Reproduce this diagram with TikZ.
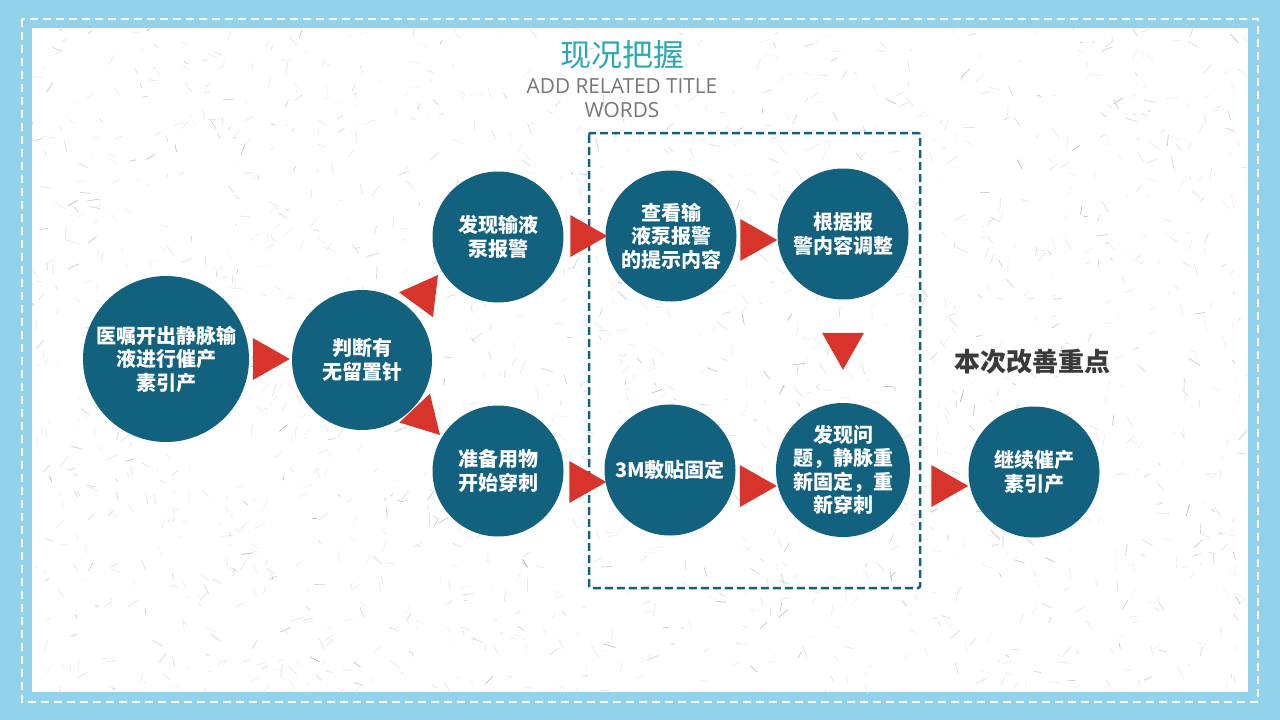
\documentclass[tikz,border=0pt]{standalone}
\usepackage{fontspec}
\newfontfamily\cjk{Noto Sans CJK SC}
\newfontfamily\latinf{Open Sans}
\usetikzlibrary{calc}
\definecolor{bluebg}{HTML}{92D2EA}
\definecolor{circfill}{HTML}{11617F}
\definecolor{trired}{HTML}{D7352B}
\definecolor{titleteal}{HTML}{2BA9B4}
\definecolor{subgray}{HTML}{767676}
\definecolor{darktext}{HTML}{3A3A3A}
\newcommand\arrtri[2]{\fill[trired,shift={(#1)},rotate=#2] (0,0) -- (-37,21) -- (-37,-21) -- cycle;}
\begin{document}
\begin{tikzpicture}[x=1pt,y=-1pt,
  stepcirc/.style={circle, fill=circfill, draw=none, text=white, inner sep=0pt,
    font=\cjk\bfseries\fontsize{20}{23.5}\selectfont, align=center},
  bigc/.style={stepcirc, minimum size=166pt},
  midc/.style={stepcirc, minimum size=140pt},
  smallc/.style={stepcirc, minimum size=131pt}]
\useasboundingbox (0,0) rectangle (1280,720);
\fill[bluebg] (0,0) rectangle (1280,720);
\draw[white, line width=2pt, dash pattern=on 8pt off 5pt] (22,19) rectangle (1258,702);
\fill[white] (32,28) rectangle (1248,692);
% paper texture
\begin{scope}
\clip (32,28) rectangle (1248,692);
\pgfmathsetseed{42}
\foreach \i in {1,...,1800}{
  \pgfmathsetmacro\px{32+1216*rnd}
  \pgfmathsetmacro\py{28+664*rnd}
  \pgfmathsetmacro\pa{360*rnd}
  \pgfmathsetmacro\pl{3+10*rnd}
  \pgfmathtruncatemacro\pg{6+26*rnd*rnd}
  \draw[black!\pg, line width=0.6pt] (\px,\py) -- ++(\pa:\pl);
}
\end{scope}
% title
\node[font=\cjk\fontsize{31}{31}\selectfont, text=titleteal] (title) at (622,55) {现况把握};
\node[font=\latinf\fontsize{20.8}{23.5}\selectfont, text=subgray, align=center] (sub) at (622,98) {ADD RELATED TITLE\\WORDS};
% focus frame
\draw[circfill, line width=2.5pt, dash pattern=on 8pt off 4pt, rounded corners=2pt] (589,133) rectangle (920,588);
% circles
\node[bigc] (c1) at (166,359) {医嘱开出静脉输\\液进行催产\\素引产};
\node[midc] (c2) at (362,360) {判断有\\无留置针};
\node[smallc] (c3) at (498,237) {发现输液\\泵报警};
\node[smallc] (c4) at (498,471) {准备用物\\开始穿刺};
\node[smallc] (c5) at (671,236) {查看输\\液泵报警\\的提示内容};
\node[smallc] (c6) at (843,234) {根据报\\警内容调整};
\node[smallc] (c7) at (670,470) {3M敷贴固定};
\node[smallc] (c8) at (843,470) {发现问\\题，静脉重\\新固定，重\\新穿刺};
\node[smallc] (c9) at (1034,472) {继续催产\\素引产};
\node[font=\cjk\bfseries\fontsize{26}{26}\selectfont, text=darktext] (focus) at (1032,362) {本次改善重点};
% triangle arrows (tip, direction)
\coordinate (t12) at ($(c2.west)+(-2,-1)$);
\coordinate (t23) at (438,275);
\coordinate (t24) at (440,435);
\coordinate (t35) at ($(c5.west)+(2,0)$);
\coordinate (t56) at ($(c6.west)+(0,6)$);
\coordinate (t68) at ($(c8.north)+(0,-33)$);
\coordinate (t47) at ($(c7.west)+(2,12)$);
\coordinate (t78) at ($(c8.west)+(1,16)$);
\coordinate (t89) at ($(c9.west)+(0,14)$);
\arrtri{t12}{0}
\arrtri{t23}{53.6}
\arrtri{t24}{-46.7}
\arrtri{t35}{0}
\arrtri{t56}{0}
\arrtri{t68}{-90}
\arrtri{t47}{0}
\arrtri{t78}{0}
\arrtri{t89}{0}
\end{tikzpicture}
\end{document}
